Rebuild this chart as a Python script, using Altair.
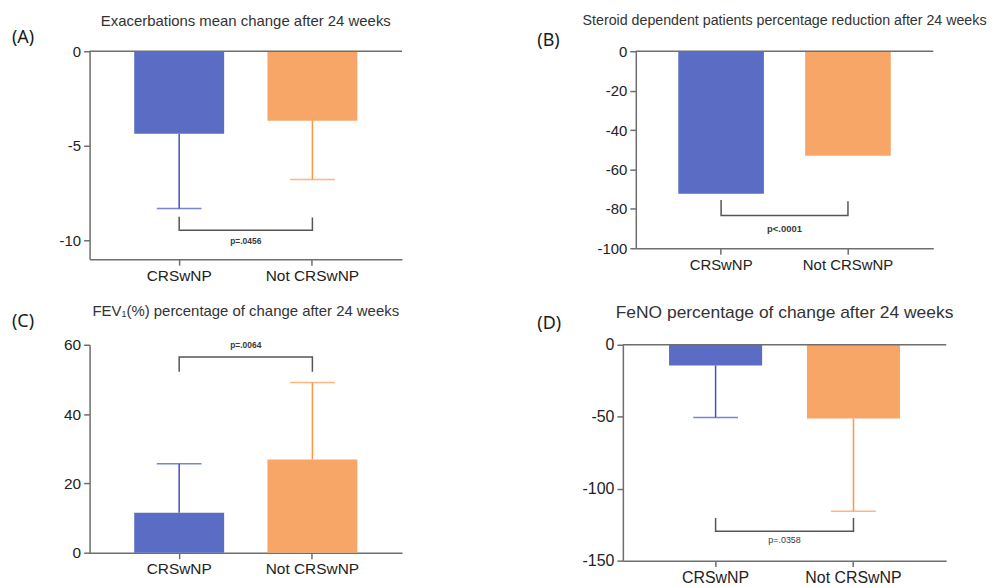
import altair as alt
import pandas as pd

FONT = "Liberation Sans"
groups = ["CRSwNP", "Not CRSwNP"]
bar_colors = ["#5a6cc4", "#f7a668"]
err_colors = ["#3f51bf", "#ff9545"]

# Panel A: exacerbations
a_title = "Exacerbations mean change after 24 weeks"
a_mean = [-4.37, -3.67]
a_err = [-8.32, -6.79]
a_bracket = [-8.75, -9.47, -8.8]
a_p = "p=.0456"
a_p_y = -10.05
a_ticks = [0, -5, -10]

# Panel B: steroid dependent patients
b_title = "Steroid dependent patients percentage reduction after 24 weeks"
b_mean = [-72.3, -53.1]
b_bracket = [-75.5, -83.4, -76.1]
b_p = "p<.0001"
b_p_y = -90
b_ticks = [0, -20, -40, -60, -80, -100]

# Panel C: FEV1
c_title = "FEV\u2081(%) percentage of change after 24 weeks"
c_mean = [11.5, 26.9]
c_err = [25.7, 49.1]
c_bracket = [52.2, 56.5, 52.2]
c_p = "p=.0064"
c_p_y = 59.9
c_ticks = [0, 20, 40, 60]

# Panel D: FeNO
d_title = "FeNO percentage of change after 24 weeks"
d_mean = [-14.4, -51.2]
d_err = [-50.5, -115.6]
d_bracket = [-120.4, -129.6, -120.4]
d_p = "p=.0358"
d_p_y = -135.4
d_ticks = [0, -50, -100, -150]

AX = "#6e6e6e"


def panel(letter, title, tsize, toff, mean, err, br, ptxt, py, pbold, psize,
          ydom, yvals, w, h, lab_size, xlab_size, letter_dx, letter_dy):
    df = pd.DataFrame({"group": groups, "mean": mean})
    xs = alt.Scale(domain=groups, paddingInner=0.325, paddingOuter=0.335)
    ys = alt.Scale(domain=ydom, nice=False, zero=False)
    x = alt.X("group:N", scale=xs, sort=groups,
              axis=alt.Axis(title=None, labelAngle=0, labelFontSize=xlab_size,
                            labelPadding=3))
    y = alt.Y("mean:Q", scale=ys,
              axis=alt.Axis(title=None, values=yvals, tickCount=len(yvals) + 1,
                            labelFontSize=lab_size, labelPadding=3,
                            labelOverlap=False, labelExpr="'' + datum.value"))
    base = alt.Chart(df)
    bars = base.mark_bar().encode(
        x=x, y=y,
        color=alt.Color("group:N", scale=alt.Scale(domain=groups, range=bar_colors),
                        legend=None))
    layers = []
    if err is not None:
        edf = pd.DataFrame({"group": groups, "mean": mean, "err": err})
        ecol = alt.Color("group:N", scale=alt.Scale(domain=groups, range=err_colors),
                         legend=None)
        erule = alt.Chart(edf).mark_rule(strokeWidth=1.5).encode(
            x="group:N", y="mean:Q", y2="err:Q", color=ecol)
        ecap = alt.Chart(edf).mark_tick(size=45, thickness=1.5).encode(
            x="group:N", y="err:Q", color=ecol)
        layers += [erule, ecap]
    one = alt.Chart(pd.DataFrame({"z": [0]}))
    zero = one.mark_rule(color=AX, strokeWidth=1.5).encode(y="z:Q")
    bdf = pd.DataFrame({"group": [groups[0], groups[0], groups[1], groups[1]],
                        "mean": [br[0], br[1], br[1], br[2]],
                        "o": [0, 1, 2, 3]})
    bracket = alt.Chart(bdf).mark_line(color="#555555", strokeWidth=1.5).encode(
        x="group:N", y="mean:Q", order="o:Q")
    ptext = one.mark_text(fontSize=psize, fontWeight="bold" if pbold else "normal",
                          color="#3a3a3a", font=FONT, baseline="middle").encode(
        x=alt.value(w / 2), y=alt.datum(py), text=alt.value(ptxt))
    lab = one.mark_text(fontSize=18, color="#1a1a1a", font="Noto Sans",
                        baseline="middle", align="left").encode(
        x=alt.value(letter_dx), y=alt.value(letter_dy), text=alt.value(letter))
    allayers = [bars] + layers + [bracket, ptext, lab]
    if ydom[1] == 0:
        allayers.insert(1, zero)
    ch = alt.layer(*allayers).resolve_scale(color="independent").properties(
        width=w, height=h,
        title=alt.TitleParams(title, fontSize=tsize, fontWeight="normal", color="#333333",
                              font=FONT, frame="group", anchor="middle", offset=toff))
    return ch


A = panel("(A)", a_title, 15, 0, a_mean, a_err, a_bracket, a_p, a_p_y, True, 8.5,
          [-11, 0], a_ticks, 314, 209, 15, 15.5, -78, -13)
B = panel("(B)", b_title, 14.3, 4, b_mean, None, b_bracket, b_p, b_p_y, True, 9.5,
          [-100, 0], b_ticks, 299, 198, 15, 15, -99, -10)
C = panel("(C)", c_title, 15, -6, c_mean, c_err, c_bracket, c_p, c_p_y, True, 8.5,
          [0, 60], c_ticks, 314, 209, 15.5, 15.5, -78, -23)
D = panel("(D)", d_title, 17.5, -6.6, d_mean, d_err, d_bracket, d_p, d_p_y, False, 9,
          [-150, 0], d_ticks, 325, 217, 16, 16, -86, -21)

row1 = alt.hconcat(A, B, spacing=135)
row2 = alt.hconcat(C, D, spacing=136)
chart = alt.vconcat(row1, row2, spacing=20).properties(
    padding={"left": 4, "top": 4, "right": 0, "bottom": 0}
).configure_view(stroke=None).configure_axis(
    grid=False, domainColor=AX, tickColor=AX, domainWidth=1.5, tickWidth=1.5,
    tickSize=6, labelColor="#222222", labelFont=FONT
)

chart.save("out.html", embed_options={"renderer": "svg", "actions": False})
